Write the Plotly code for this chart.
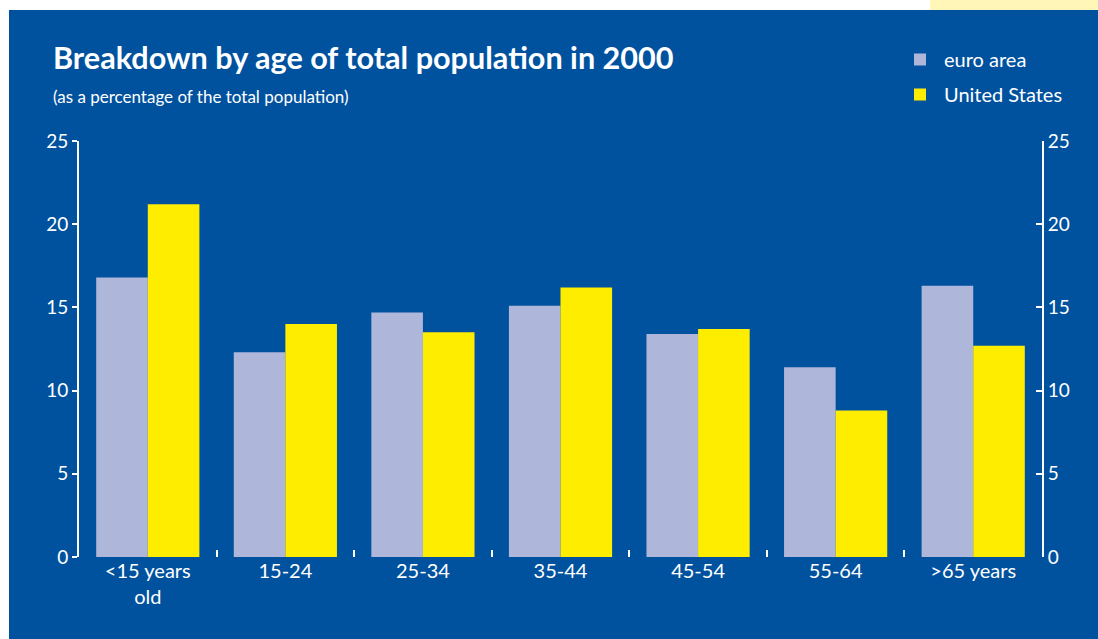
import plotly.graph_objects as go

categories = ["<15 years<br>old", "15-24", "25-34", "35-44", "45-54", "55-64", ">65 years"]
euro_area = [16.8, 12.3, 14.7, 15.1, 13.4, 11.4, 16.3]
united_states = [21.2, 14.0, 13.5, 16.2, 13.7, 8.8, 12.7]
y_ticks = [0, 5, 10, 15, 20, 25]

BLUE = "#00529F"
EURO = "#AEB6DA"
US = "#FFED00"
FONT = "Lato"

W, H = 1098, 639
L, R, T, B = 79, 56, 141, 82
pw, ph = W - L - R, H - T - B

def px_x(p):
    return (p - L) / pw

def px_y(p):
    return (H - B - p) / ph

fig = go.Figure()
fig.add_trace(go.Bar(x=categories, y=euro_area, name="euro area", marker_color=EURO,
                     marker_line_width=0, legendgroup="a"))
fig.add_trace(go.Bar(x=categories, y=united_states, name="United States", marker_color=US,
                     marker_line_width=0, legendgroup="b"))
# invisible helper so the right-hand axis is drawn
fig.add_trace(go.Scatter(x=categories, y=euro_area, yaxis="y2", mode="markers",
                         marker=dict(opacity=0), showlegend=False, hoverinfo="skip"))

fig.update_layout(
    width=W, height=H,
    margin=dict(l=L, r=R, t=T, b=B, pad=0),
    paper_bgcolor="white",
    plot_bgcolor="rgba(0,0,0,0)",
    barmode="group", bargap=0.25, bargroupgap=0,
    font=dict(family=FONT, color="white", size=18),
    showlegend=True,
    legend=dict(x=px_x(896), y=px_y(40), xanchor="left", yanchor="top",
                bgcolor="rgba(0,0,0,0)", font=dict(size=20, color="white"),
                tracegroupgap=6, itemwidth=38),
    xaxis=dict(type="category", showgrid=False, showline=False, zeroline=False,
               tickson="boundaries", ticks="inside", ticklen=7, tickwidth=2,
               tickcolor="white", tickfont=dict(size=20, color="white")),
    yaxis=dict(range=[0, 25], tickvals=y_ticks, showgrid=False, zeroline=False,
               showline=True, linecolor="white", linewidth=2,
               ticks="outside", ticklen=5, tickwidth=2, tickcolor="white",
               tickfont=dict(size=19, color="white")),
    yaxis2=dict(range=[0, 25], tickvals=y_ticks, overlaying="y", side="right",
                anchor="x", showgrid=False, zeroline=False,
                showline=True, linecolor="white", linewidth=2,
                ticks="inside", ticklen=6, tickwidth=2, tickcolor="white",
                tickfont=dict(size=19, color="white")),
    shapes=[
        dict(type="rect", xref="paper", yref="paper", layer="below",
             x0=px_x(9), x1=px_x(W + 5), y0=px_y(H + 5), y1=px_y(10),
             fillcolor=BLUE, line_width=0),
        dict(type="rect", xref="paper", yref="paper", layer="below",
             x0=px_x(930), x1=px_x(W + 5), y0=px_y(10), y1=px_y(-5),
             fillcolor="#FFF6B8", line_width=0),
    ],
    annotations=[
        dict(text="<b>Breakdown by age of total population in 2000</b>",
             xref="paper", yref="paper", x=px_x(51), y=px_y(57),
             xanchor="left", yanchor="middle", showarrow=False,
             font=dict(size=30.6, color="white", family=FONT)),
        dict(text="(as a percentage of the total population)",
             xref="paper", yref="paper", x=px_x(51), y=px_y(97),
             xanchor="left", yanchor="middle", showarrow=False,
             font=dict(size=17, color="white", family=FONT)),
    ],
)

fig.write_html("out.html")
